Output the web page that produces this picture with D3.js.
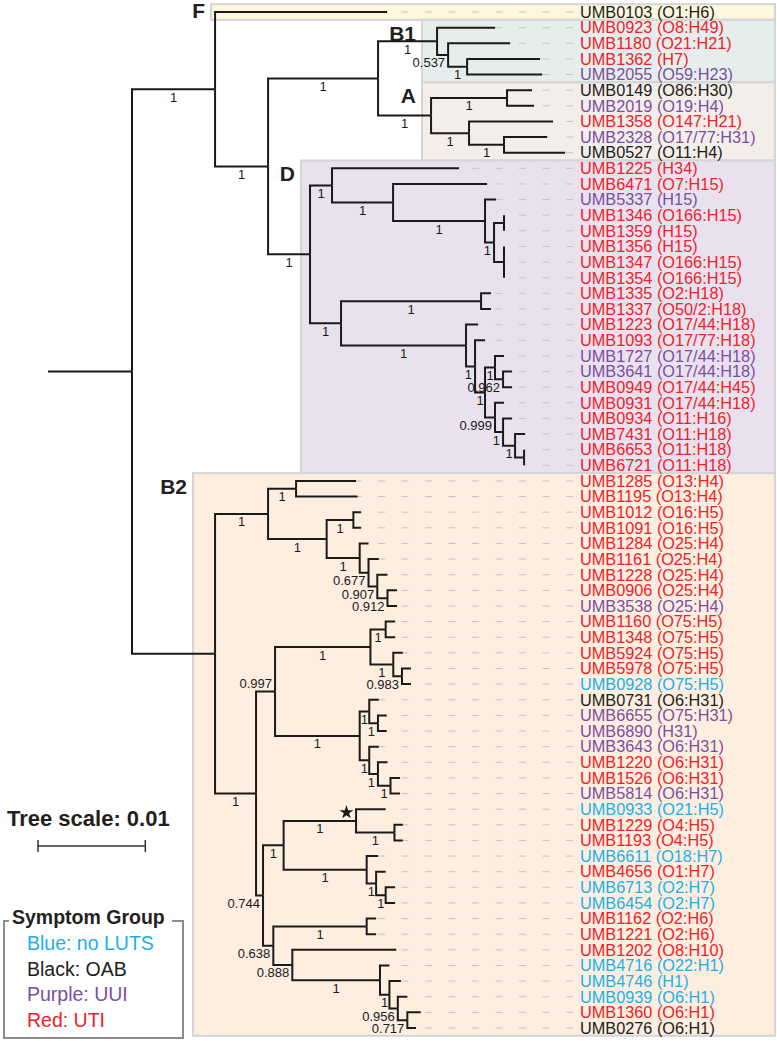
<!DOCTYPE html>
<html>
<head>
<meta charset="utf-8">
<script src="https://cdn.jsdelivr.net/npm/d3@7"></script>
<style>
  html, body { margin: 0; padding: 0; background: #fff; }
  svg { display: block; font-family: "Liberation Sans", Arial, sans-serif; }
</style>
</head>
<body>
<svg id="chart" width="777" height="1041"></svg>
<script>
// ---------------- DATA ----------------
// Tree topology, branch lengths (substitutions/site) and bootstrap supports (Newick)
const newickF  = "UMB0103:0.01603";
const newickB1 = "(UMB0923:0.00541,(UMB1180:0.00578,(UMB1362:0.00680,UMB2055:0.00699)1:0.00177)0.537:0.00103)1:0.00550";
const newickA  = "((UMB0149:0.00233,UMB2019:0.00252)1:0.00708,(UMB1358:0.00783,(UMB2328:0.00401,UMB0527:0.00569)1:0.00326)1:0.00354)1:0.00494";
const newickD1 = "(UMB1225:0.01184,(UMB6471:0.00876,(UMB5337:0.00103,((UMB1346:0,UMB1359:0):0.00093,(UMB1356:0,UMB1347:0,UMB1354:0):0.00093)1:0.00084)1:0.00857)1:0.00569)1:0.00205";
const newickD2 = "((UMB1335:0.00093,UMB1337:0.00093)1:0.01305,(UMB1223:0.00112,(UMB1093:0.00093,((UMB1727:0.00084,(UMB3641:0.00084,UMB0949:0.00084)0.962:0.00075)1:0.00093,(UMB0931:0.00084,(UMB0934:0.00084,(UMB7431:0.00093,(UMB6653:0,UMB6721:0):0.00084)1:0.00112)1:0.00075)0.999:0.00093)1:0.00093)1:0.00084)1:0.01165)1:0.00289";
const newickB2a = "((UMB1285:0.00559,UMB1195:0.00573)1:0.00261,((UMB1012:0.00072,UMB1091:0.00072)1:0.00249,(UMB1284:0.00082,(UMB1161:0.00096,(UMB1228:0.00095,(UMB0906:0.00089,UMB3538:0.00089)0.912:0.00095)0.907:0.00082)0.677:0.00082)1:0.00308)1:0.00546)1:0.00494";
const newickB2h = "((UMB1160:0.00088,UMB1348:0.00089)1:0.00142,(UMB5924:0.00089,(UMB5978:0.00084,UMB0928:0.00084)0.983:0.00081)1:0.00213)1:0.00889";
const newickB2i = "((UMB0731:0.00089,(UMB6655:0.00082,UMB6890:0.00082)1:0.00081)1:0.00089,(UMB3643:0.00089,(UMB1220:0.00089,(UMB1526:0.00088,UMB5814:0.00088)1:0.00117)1:0.00081)1:0.00089)1:0.00789";
const newickB2f = "((UMB0933:0.00276,(UMB1229:0.00078,UMB1193:0.00078)1:0.00358)1:0.00675,(UMB6611:0.00106,(UMB4656:0.00089,(UMB6713:0.00088,UMB6454:0.00088)1:0.00089)1:0.00088)1:0.00774)1:0.00192";
const newickB2g = "((UMB1162:0.00088,UMB1221:0.00088)1:0.00870,(UMB1202:0.00969,(UMB4716:0.00088,(UMB4746:0.00107,(UMB0939:0.00089,(UMB1360:0.00125,UMB0276:0.00081)0.717:0.00089)0.956:0.00078)1:0.00088)1:0.00817)0.888:0.00177)0.638:0.00096";

const newick =
  "((" + newickF + ",((" + newickB1 + "," + newickA + ")1:0.01025,(" + newickD1 + "," + newickD2 + ")1:0.00391)1:0.00494)1:0.00774," +
  "(" + newickB2a + ",((" + newickB2h + "," + newickB2i + ")0.997:0.00177,(" + newickB2f + "," + newickB2g + ")0.744:0.00065)1:0.00382):0.00774):0.00783;";

const strainIds = ["UMB0103","UMB0923","UMB1180","UMB1362","UMB2055","UMB0149","UMB2019","UMB1358","UMB2328","UMB0527",
  "UMB1225","UMB6471","UMB5337","UMB1346","UMB1359","UMB1356","UMB1347","UMB1354","UMB1335","UMB1337",
  "UMB1223","UMB1093","UMB1727","UMB3641","UMB0949","UMB0931","UMB0934","UMB7431","UMB6653","UMB6721",
  "UMB1285","UMB1195","UMB1012","UMB1091","UMB1284","UMB1161","UMB1228","UMB0906","UMB3538","UMB1160",
  "UMB1348","UMB5924","UMB5978","UMB0928","UMB0731","UMB6655","UMB6890","UMB3643","UMB1220","UMB1526",
  "UMB5814","UMB0933","UMB1229","UMB1193","UMB6611","UMB4656","UMB6713","UMB6454","UMB1162","UMB1221",
  "UMB1202","UMB4716","UMB4746","UMB0939","UMB1360","UMB0276"];
const serotypes = ["O1:H6","O8:H49","O21:H21","H7","O59:H23","O86:H30","O19:H4","O147:H21","O17/77:H31","O11:H4",
  "H34","O7:H15","H15","O166:H15","H15","H15","O166:H15","O166:H15","O2:H18","O50/2:H18",
  "O17/44:H18","O17/77:H18","O17/44:H18","O17/44:H18","O17/44:H45","O17/44:H18","O11:H16","O11:H18","O11:H18","O11:H18",
  "O13:H4","O13:H4","O16:H5","O16:H5","O25:H4","O25:H4","O25:H4","O25:H4","O25:H4","O75:H5",
  "O75:H5","O75:H5","O75:H5","O75:H5","O6:H31","O75:H31","H31","O6:H31","O6:H31","O6:H31",
  "O6:H31","O21:H5","O4:H5","O4:H5","O18:H7","O1:H7","O2:H7","O2:H7","O2:H6","O2:H6",
  "O8:H10","O22:H1","H1","O6:H1","O6:H1","O6:H1"];
const symptom = ["OAB","UTI","UTI","UTI","UUI","OAB","UUI","UTI","UUI","OAB",
  "UTI","UTI","UUI","UTI","UTI","UTI","UTI","UTI","UTI","UTI",
  "UTI","UTI","UUI","UUI","UTI","UTI","UTI","UTI","UTI","UTI",
  "UTI","UTI","UTI","UTI","UTI","UTI","UTI","UTI","UUI","UTI",
  "UTI","UTI","UTI","noLUTS","OAB","UUI","UUI","UUI","UTI","UTI",
  "UUI","noLUTS","UTI","UTI","noLUTS","UTI","noLUTS","noLUTS","UTI","UTI",
  "UTI","noLUTS","noLUTS","noLUTS","UTI","OAB"];

const symptomCodes  = ["noLUTS","OAB","UUI","UTI"];
const legendLabels  = ["Blue: no LUTS","Black: OAB","Purple: UUI","Red: UTI"];
const legendTitle   = "Symptom Group";

const cladeNames = ["F","B1","A","D","B2"];
const cladeFirst = ["UMB0103","UMB0923","UMB0149","UMB1225","UMB1285"];
const cladeLast  = ["UMB0103","UMB2055","UMB0527","UMB6721","UMB0276"];

const starredClade = ["UMB0933","UMB1193"];      // node marked with a star
const supportAboveClade = ["UMB1160","UMB5814"]; // node whose support is printed above its branch

const scaleValue = 0.01;
const scaleTitle = "Tree scale: 0.01";

// ---------------- STYLE ----------------
const colors = { noLUTS: "#1bb0ea", OAB: "#1d1d1b", UUI: "#7c4e9f", UTI: "#ee2229" };
const cladeFill = { F: "#fdf8dd", B1: "#e5eeec", A: "#f3eee9", D: "#eae1ef", B2: "#fdeee0" };
const cladeLeft = { F: 211, B1: 422, A: 422, D: 301, B2: 193 };
const W = 777, H = 1041;

// ---------------- PARSE ----------------
function parseNewick(s) {
  let i = 0;
  function node() {
    const n = {};
    if (s[i] === "(") {
      n.children = [];
      i++;
      n.children.push(node());
      while (s[i] === ",") { i++; n.children.push(node()); }
      i++; // ')'
    }
    let lab = "";
    while (i < s.length && !":,();".includes(s[i])) lab += s[i++];
    n.length = 0;
    if (s[i] === ":") {
      i++;
      let num = "";
      while (i < s.length && !",();".includes(s[i])) num += s[i++];
      n.length = +num;
    }
    if (n.children) n.support = lab; else n.name = lab;
    return n;
  }
  return node();
}

const root = d3.hierarchy(parseNewick(newick));
root.eachBefore(d => { d.dist = (d.parent ? d.parent.dist : 0) + d.data.length; });

const x = d3.scaleLinear().domain([0, scaleValue]).range([48, 48 + 107.3]);
const y = d3.scalePoint().domain(strainIds).range([12, 1028]);

root.eachAfter(d => {
  d.px = x(d.dist);
  if (d.children) d.py = (d.children[0].py + d.children[d.children.length - 1].py) / 2;
  else d.py = y(d.data.name);
});

function mrca(names) {
  const leaves = root.leaves().filter(l => names.includes(l.data.name));
  let a = leaves[0];
  while (!names.every(n => a.leaves().some(l => l.data.name === n))) a = a.parent;
  return a;
}
const starNode = mrca(starredClade);
const aboveNode = mrca(supportAboveClade);

const svg = d3.select("#chart");
const half = y.step() / 2;

// ---------------- CLADE BOXES ----------------
const boxRight = 775;
const gBox = svg.append("g");
cladeNames.forEach((c, i) => {
  const top = y(cladeFirst[i]) - half, bot = y(cladeLast[i]) + half;
  gBox.append("rect")
    .attr("x", cladeLeft[c]).attr("y", top)
    .attr("width", boxRight - cladeLeft[c]).attr("height", bot - top)
    .attr("fill", cladeFill[c]).attr("stroke", "#d5d5d5").attr("stroke-width", 2);
  gBox.append("text")
    .attr("x", cladeLeft[c] - 6).attr("y", Math.min(top + 21, bot - 2))
    .attr("text-anchor", "end")
    .attr("font-size", 21).attr("font-weight", "bold").attr("fill", "#231f20")
    .text(c);
});

// ---------------- DASHED GUIDES + LABELS ----------------
const labelX = 580;
const gLeaf = svg.append("g");
root.leaves().forEach(l => {
  const idx = strainIds.indexOf(l.data.name);
  gLeaf.append("line")
    .attr("x1", labelX - 7).attr("x2", l.px)
    .attr("y1", l.py).attr("y2", l.py)
    .attr("stroke", "#c4c4c4").attr("stroke-width", 1)
    .attr("stroke-dasharray", "7,16.5");
  gLeaf.append("text")
    .attr("x", labelX).attr("y", l.py + 5.8)
    .attr("font-size", 16.3)
    .attr("fill", colors[symptom[idx]])
    .text(strainIds[idx] + " (" + serotypes[idx] + ")");
});

// ---------------- BRANCHES ----------------
const gTree = svg.append("g").attr("fill", "none").attr("stroke", "#1a1a1a").attr("stroke-width", 2);
gTree.append("path").attr("d", `M${x(0)},${root.py}H${root.px}`);
root.descendants().filter(d => d.parent).forEach(d => {
  gTree.append("path")
    .attr("stroke-linejoin", "miter")
    .attr("d", `M${d.parent.px},${d.parent.py}V${d.py}H${d.px}`);
});

// ---------------- SUPPORT VALUES ----------------
const gSup = svg.append("g").attr("font-size", 13).attr("fill", "#1a1a1a");
root.descendants().filter(d => d.parent && d.children && d.data.support).forEach(d => {
  const t = gSup.append("text").text(d.data.support);
  const w = t.node().getComputedTextLength();
  const len = d.px - d.parent.px;
  const yy = d === aboveNode ? d.py - 3.5 : d.py + 12.5;
  if (len >= w + 2) t.attr("x", (d.px + d.parent.px) / 2).attr("text-anchor", "middle");
  else t.attr("x", d.px - 3).attr("text-anchor", "end");
  t.attr("y", yy);
});

// star marker
svg.append("path")
  .attr("d", d3.symbol(d3.symbolStar, 60)())
  .attr("transform", `translate(${starNode.px - 9.6},${starNode.py - 8.5}) rotate(0)`)
  .attr("fill", "#1a1a1a");

// ---------------- TREE SCALE ----------------
svg.append("text")
  .attr("x", 7).attr("y", 826)
  .attr("font-size", 22).attr("font-weight", "bold").attr("fill", "#231f20")
  .text(scaleTitle);
const sx0 = 38, sx1 = 38 + (x(scaleValue) - x(0));
const gScale = svg.append("g").attr("stroke", "#333").attr("stroke-width", 1.5);
gScale.append("line").attr("x1", sx0).attr("x2", sx1).attr("y1", 846).attr("y2", 846);
gScale.append("line").attr("x1", sx0).attr("x2", sx0).attr("y1", 840).attr("y2", 852);
gScale.append("line").attr("x1", sx1).attr("x2", sx1).attr("y1", 840).attr("y2", 852);

// ---------------- LEGEND ----------------
const lg = svg.append("g");
lg.append("path")
  .attr("d", "M9,921H4V1038H183V921H172")
  .attr("fill", "none").attr("stroke", "#8c8c8c").attr("stroke-width", 2);
lg.append("text")
  .attr("x", 12).attr("y", 924)
  .attr("font-size", 19.5).attr("font-weight", "bold").attr("fill", "#231f20")
  .text(legendTitle);
symptomCodes.forEach((c, i) => {
  lg.append("text")
    .attr("x", 27).attr("y", 950 + i * 25.5)
    .attr("font-size", 19.5).attr("fill", colors[c])
    .text(legendLabels[i]);
});
</script>
</body>
</html>
